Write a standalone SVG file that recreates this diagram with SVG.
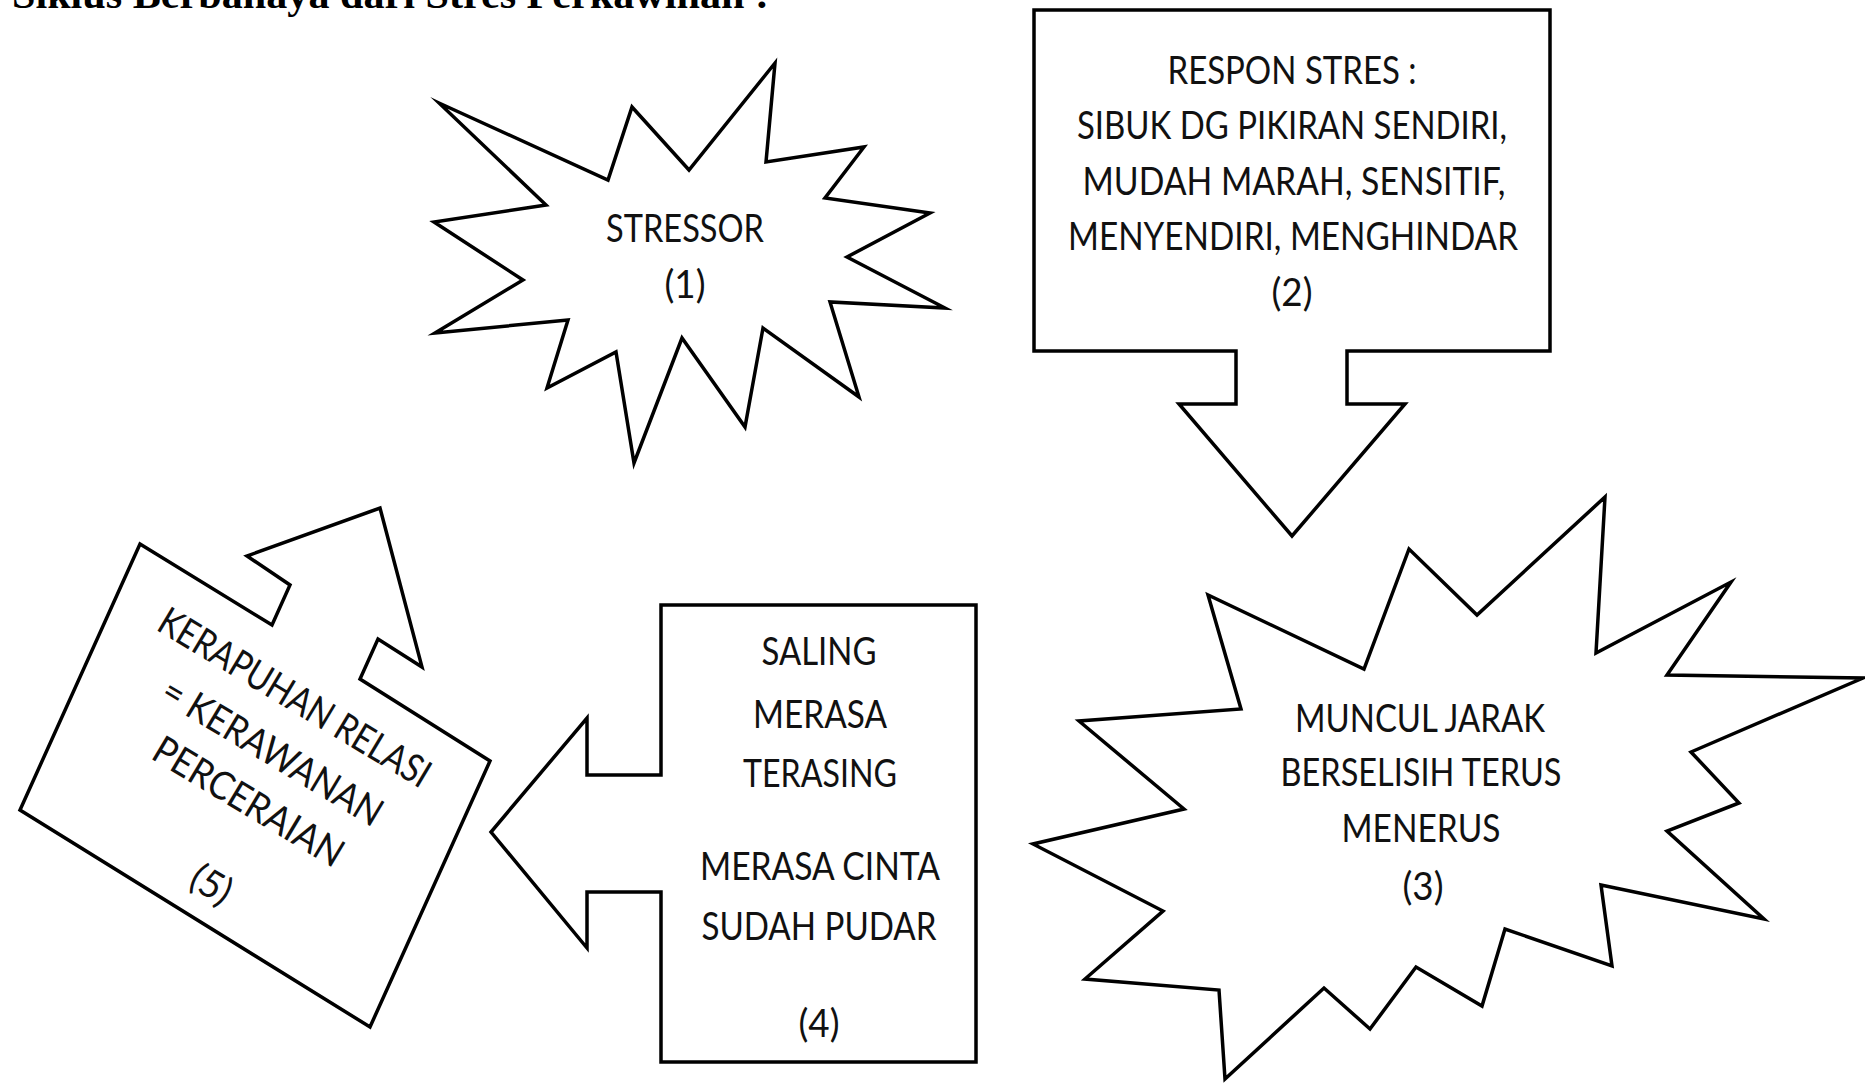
<svg xmlns="http://www.w3.org/2000/svg" width="1865" height="1084" viewBox="0 0 1865 1084">
<style>
.shape{fill:#fff;stroke:#000;stroke-width:3.5;stroke-linejoin:miter;stroke-miterlimit:10}
.t{font-family:Lato,"Open Sans","Liberation Sans",sans-serif;font-size:39px;fill:#111;text-anchor:middle}
.title{font-family:"Liberation Serif","Times New Roman",serif;font-weight:bold;font-size:40px;fill:#000}
</style>
<rect width="1865" height="1084" fill="#fff"/>
<text class="title" x="12" y="8" textLength="757" lengthAdjust="spacingAndGlyphs">Siklus Berbahaya dari Stres Perkawinan :</text>

<g id="node1">
<polygon class="shape" points="439,103 608,180 632,107 689,170 775,63 766,162 864,147 825,198 930,213 847,257 945,308 830,302 859,397 763,328 745,427 682,338 634,463 616,352 547,388 568,320 435,333 523,280 434,222 546,205"/>
<text class="t" x="685" y="242" textLength="158" lengthAdjust="spacingAndGlyphs">STRESSOR</text>
<text class="t" x="685" y="298" textLength="41" lengthAdjust="spacingAndGlyphs">(1)</text>
</g>

<g id="node2">
<polygon class="shape" points="1034,10 1550,10 1550,351 1347,351 1347,404 1405,404 1292,536 1179,404 1236,404 1236,351 1034,351"/>
<text class="t" x="1292" y="84" textLength="249" lengthAdjust="spacingAndGlyphs">RESPON STRES :</text>
<text class="t" x="1292" y="139" textLength="430" lengthAdjust="spacingAndGlyphs">SIBUK DG PIKIRAN SENDIRI,</text>
<text class="t" x="1294" y="195" textLength="423" lengthAdjust="spacingAndGlyphs">MUDAH MARAH, SENSITIF,</text>
<text class="t" x="1293" y="250" textLength="450" lengthAdjust="spacingAndGlyphs">MENYENDIRI, MENGHINDAR</text>
<text class="t" x="1292" y="306" textLength="41" lengthAdjust="spacingAndGlyphs">(2)</text>
</g>

<g id="node3">
<polygon class="shape" points="1605,497 1596,653 1731,582 1667,675 1863,678 1691,752 1739,803 1667,831 1764,919 1601,885 1612,966 1505,929 1482,1006 1416,967 1370,1029 1324,988 1225,1079 1219,990 1085,979 1163,911 1033,844 1184,809 1079,721 1241,709 1208,595 1364,669 1409,549 1477,615"/>
<text class="t" x="1420" y="732" textLength="250" lengthAdjust="spacingAndGlyphs">MUNCUL JARAK</text>
<text class="t" x="1421" y="786" textLength="281" lengthAdjust="spacingAndGlyphs">BERSELISIH TERUS</text>
<text class="t" x="1421" y="842" textLength="159" lengthAdjust="spacingAndGlyphs">MENERUS</text>
<text class="t" x="1423" y="900" textLength="41" lengthAdjust="spacingAndGlyphs">(3)</text>
</g>

<g id="node4">
<polygon class="shape" points="661,605 976,605 976,1062 661,1062 661,892 587,892 587,948 491,832 587,718 587,775 661,775"/>
<text class="t" x="819" y="665" textLength="115" lengthAdjust="spacingAndGlyphs">SALING</text>
<text class="t" x="820" y="728" textLength="134" lengthAdjust="spacingAndGlyphs">MERASA</text>
<text class="t" x="820" y="787" textLength="154" lengthAdjust="spacingAndGlyphs">TERASING</text>
<text class="t" x="820" y="880" textLength="240" lengthAdjust="spacingAndGlyphs">MERASA CINTA</text>
<text class="t" x="819" y="940" textLength="235" lengthAdjust="spacingAndGlyphs">SUDAH PUDAR</text>
<text class="t" x="819" y="1037" textLength="41" lengthAdjust="spacingAndGlyphs">(4)</text>
</g>

<g id="node5">
<polygon class="shape" points="140,544 272,625 290,585 247,556 380,508 422,667 378,639 360,679 490,761 370,1027 20,810"/>
<g transform="translate(295,697) rotate(31)">
<text class="t" x="0" y="14" textLength="310" lengthAdjust="spacingAndGlyphs">KERAPUHAN RELASI</text>
<text class="t" x="9" y="72" textLength="250" lengthAdjust="spacingAndGlyphs">= KERAWANAN</text>
<text class="t" x="14" y="127" textLength="215" lengthAdjust="spacingAndGlyphs">PERCERAIAN</text>
<text class="t" x="25" y="217" textLength="41" lengthAdjust="spacingAndGlyphs">(5)</text>
</g>
</g>

<g id="connectors"></g>
</svg>
